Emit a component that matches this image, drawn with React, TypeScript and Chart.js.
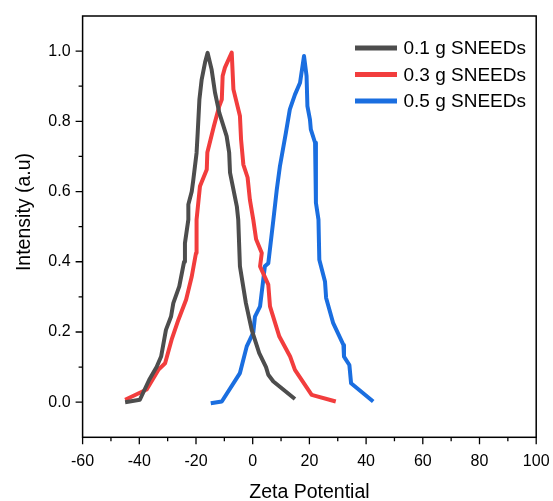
import React, { useEffect, useRef } from "react";
import { Chart, registerables } from "chart.js";

Chart.register(...registerables);

// ---- Data ----
const seriesLabels = ["0.1 g SNEEDs", "0.3 g SNEEDs", "0.5 g SNEEDs"];
const seriesColors = ["#4D4D4D", "#F23D3D", "#1A6EE0"];

const x01 = [-45.0, -39.8, -36.5, -33.9, -32.3, -30.6, -28.8, -28.0, -25.9, -24.2, -23.9, -22.7, -22.7, -21.5, -21.0, -19.8, -19.4, -18.8, -18.0, -16.8, -15.9, -14.5, -13.3, -11.8, -9.2, -8.3, -8.0, -5.6, -5.1, -4.5, -2.4, -0.35, 2.3, 4.7, 5.5, 7.3, 14.9];
const y01 = [0.0, 0.007, 0.064, 0.10, 0.13, 0.206, 0.244, 0.282, 0.33, 0.40, 0.453, 0.52, 0.563, 0.60, 0.63, 0.71, 0.768, 0.862, 0.919, 0.968, 0.995, 0.948, 0.882, 0.825, 0.758, 0.711, 0.654, 0.558, 0.52, 0.387, 0.282, 0.206, 0.14, 0.10, 0.078, 0.059, 0.009];

const x03 = [-45.0, -37.4, -33.3, -30.9, -28.6, -26.2, -23.5, -21.5, -20.0, -19.8, -18.6, -16.2, -16.0, -13.7, -11.8, -10.9, -10.6, -9.8, -7.4, -6.8, -4.5, -4.1, -3.3, -1.8, -1.0, 0.2, 1.2, 3.2, 2.6, 5.5, 6.1, 9.4, 13.2, 14.9, 20.8, 29.3];
const y03 = [0.007, 0.036, 0.092, 0.111, 0.178, 0.235, 0.292, 0.358, 0.425, 0.52, 0.615, 0.663, 0.711, 0.786, 0.843, 0.862, 0.929, 0.953, 0.996, 0.891, 0.815, 0.748, 0.677, 0.64, 0.577, 0.52, 0.464, 0.425, 0.387, 0.335, 0.273, 0.187, 0.13, 0.092, 0.021, 0.002];

const x05 = [-14.8, -10.9, -4.5, -2.1, 0.2, 0.8, 2.6, 4.3, 5.5, 7.3, 8.5, 9.6, 11.7, 13.1, 14.9, 16.7, 18.1, 19.0, 19.3, 20.2, 20.5, 22.0, 22.3, 23.2, 23.5, 25.5, 25.9, 28.4, 32.0, 32.2, 34.1, 34.7, 42.5];
const y05 = [-0.003, 0.002, 0.083, 0.159, 0.198, 0.244, 0.273, 0.387, 0.396, 0.52, 0.606, 0.672, 0.767, 0.834, 0.876, 0.91, 0.986, 0.929, 0.843, 0.805, 0.777, 0.739, 0.568, 0.52, 0.406, 0.344, 0.297, 0.225, 0.163, 0.13, 0.106, 0.054, 0.002];

const xTicks = [-60, -40, -20, 0, 20, 40, 60, 80, 100];
const xMinorTicks = [-50, -30, -10, 10, 30, 50, 70, 90];
const yTicks = [0.0, 0.2, 0.4, 0.6, 0.8, 1.0];
const yMinorTicks = [0.1, 0.3, 0.5, 0.7, 0.9];

const xTitle = "Zeta Potential";
const yTitle = "Intensity (a.u)";

const FONT = "'Liberation Sans', Arial, sans-serif";

function zip(xs: number[], ys: number[]) {
  return xs.map((x, i) => ({ x, y: ys[i] }));
}

const decorPlugin = {
  id: "decor",
  afterDraw(chart: any) {
    const ctx: CanvasRenderingContext2D = chart.ctx;
    const { left, right, top, bottom } = chart.chartArea;
    const xs = chart.scales.x;
    const ys = chart.scales.y;
    ctx.save();
    ctx.strokeStyle = "#000";
    ctx.lineWidth = 1.5;
    ctx.strokeRect(left, top, right - left, bottom - top);
    ctx.lineWidth = 1.3;
    ctx.beginPath();
    xTicks.forEach((v) => {
      const p = xs.getPixelForValue(v);
      ctx.moveTo(p, bottom);
      ctx.lineTo(p, bottom + 7);
    });
    xMinorTicks.forEach((v) => {
      const p = xs.getPixelForValue(v);
      ctx.moveTo(p, bottom);
      ctx.lineTo(p, bottom + 4);
    });
    yTicks.forEach((v) => {
      const p = ys.getPixelForValue(v);
      ctx.moveTo(left, p);
      ctx.lineTo(left - 7, p);
    });
    yMinorTicks.forEach((v) => {
      const p = ys.getPixelForValue(v);
      ctx.moveTo(left, p);
      ctx.lineTo(left - 4, p);
    });
    ctx.stroke();

    // titles
    ctx.fillStyle = "#000";
    ctx.font = `19.5px ${FONT}`;
    ctx.textAlign = "center";
    ctx.textBaseline = "alphabetic";
    ctx.fillText(xTitle, (left + right) / 2, 498);
    ctx.save();
    ctx.translate(29.5, 212);
    ctx.rotate(-Math.PI / 2);
    ctx.fillText(yTitle, 0, 0);
    ctx.restore();

    // legend
    ctx.font = `19px ${FONT}`;
    ctx.textAlign = "left";
    ctx.textBaseline = "middle";
    seriesLabels.forEach((lab, i) => {
      const yy = 48 + i * 26.5;
      ctx.strokeStyle = seriesColors[i];
      ctx.lineWidth = 5;
      ctx.beginPath();
      ctx.moveTo(355, yy);
      ctx.lineTo(397, yy);
      ctx.stroke();
      ctx.fillStyle = "#000";
      ctx.fillText(lab, 403.5, yy + 1);
    });
    ctx.restore();
  },
};

function zeroPad(s: any) {
  s.paddingLeft = 0;
  s.paddingRight = 0;
  s.paddingTop = 0;
  s.paddingBottom = 0;
}

export default function App() {
  const ref = useRef<HTMLCanvasElement | null>(null);
  useEffect(() => {
    document.body.style.margin = "0";
    const canvas = ref.current;
    if (!canvas) return;
    const datasets = [
      zip(x01, y01),
      zip(x03, y03),
      zip(x05, y05),
    ].map((d, i) => ({
      label: seriesLabels[i],
      data: d,
      borderColor: seriesColors[i],
      backgroundColor: seriesColors[i],
      borderWidth: 4,
      pointRadius: 0,
      tension: 0,
      borderJoinStyle: "round" as const,
      borderCapStyle: "butt" as const,
      fill: false,
    }));
    const chart = new Chart(canvas, {
      type: "line",
      data: { datasets },
      options: {
        animation: false,
        responsive: false,
        devicePixelRatio: 1,
        layout: { padding: { top: 16, right: 16.8, left: 0, bottom: 0 } },
        plugins: { legend: { display: false }, tooltip: { enabled: false } },
        scales: {
          x: {
            type: "linear",
            min: -60,
            max: 100,
            position: "bottom",
            grid: { display: false, drawTicks: false, tickLength: 0 },
            border: { display: false },
            afterBuildTicks: (s: any) => {
              s.ticks = xTicks.map((v) => ({ value: v }));
            },
            afterFit: (s: any) => {
              s.height = 63.7;
              zeroPad(s);
            },
            ticks: {
              autoSkip: false,
              maxRotation: 0,
              padding: 15,
              color: "#000",
              font: { family: FONT, size: 16 },
              callback: (v: any) => String(v),
            },
          },
          y: {
            type: "linear",
            min: -0.1,
            max: 1.1,
            grid: { display: false, drawTicks: false, tickLength: 0 },
            border: { display: false },
            afterBuildTicks: (s: any) => {
              s.ticks = yTicks.map((v) => ({ value: v }));
            },
            afterFit: (s: any) => {
              s.width = 82.6;
              zeroPad(s);
            },
            ticks: {
              autoSkip: false,
              padding: 12,
              color: "#000",
              font: { family: FONT, size: 16 },
              callback: (v: any) => Number(v).toFixed(1),
            },
          },
        },
      },
      plugins: [decorPlugin],
    });
    return () => chart.destroy();
  }, []);
  return (
    <div style={{ width: 553, height: 501 }}>
      <canvas ref={ref} width={553} height={501} style={{ display: "block" }} />
    </div>
  );
}
